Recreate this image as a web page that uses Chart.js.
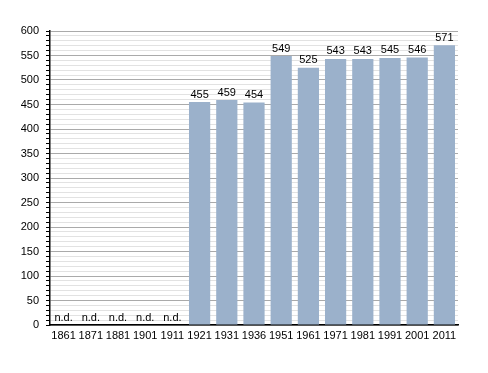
<!DOCTYPE html>
<html>
<head>
<meta charset="utf-8">
<script src="https://cdn.jsdelivr.net/npm/chart.js@4/dist/chart.umd.min.js"></script>
<style>
  html, body { margin: 0; padding: 0; background: #fff; }
  #wrap { width: 488px; height: 373px; }
</style>
</head>
<body>
<div id="wrap"><canvas id="popChart" width="488" height="373"></canvas></div>
<script>
const years = ['1861', '1871', '1881', '1901', '1911', '1921', '1931', '1936', '1951', '1961', '1971', '1981', '1991', '2001', '2011'];
// null = no data (n.d.)
const population = [null, null, null, null, null, 455, 459, 454, 549, 525, 543, 543, 545, 546, 571];

const BAR_COLOR = '#9bb1cb';
const FONT = 'Liberation Sans, Arial, sans-serif';

// draws value labels above bars and "n.d." where data is missing
const valueLabels = {
  id: 'valueLabels',
  afterDatasetsDraw(chart) {
    const { ctx } = chart;
    const meta = chart.getDatasetMeta(0);
    const yScale = chart.scales.y;
    ctx.save();
    ctx.font = '11px ' + FONT;
    ctx.fillStyle = '#000';
    ctx.textAlign = 'center';
    ctx.textBaseline = 'bottom';
    meta.data.forEach((bar, i) => {
      const v = population[i];
      if (v === null) {
        ctx.fillText('n.d.', bar.x, yScale.getPixelForValue(0) - 2);
      } else {
        ctx.fillText(String(v), bar.x, bar.y - 2);
      }
    });
    ctx.restore();
  }
};

Chart.defaults.font.family = FONT;
Chart.defaults.font.size = 11;
Chart.defaults.color = '#000';

new Chart(document.getElementById('popChart'), {
  type: 'bar',
  data: {
    labels: years,
    datasets: [{
      data: population,
      backgroundColor: BAR_COLOR,
      borderWidth: 0,
      barPercentage: 0.78,
      categoryPercentage: 1.0
    }]
  },
  options: {
    responsive: false,
    animation: false,
    layout: { padding: { top: 31, right: 30, left: 0, bottom: 0 } },
    plugins: {
      legend: { display: false },
      tooltip: { enabled: false }
    },
    scales: {
      x: {
        grid: { display: false, drawTicks: false },
        border: { color: '#000', width: 1.5 },
        ticks: { padding: 4, maxRotation: 0, autoSkip: false, color: '#000' },
        afterFit(scale) { scale.height = 48; }
      },
      y: {
        min: 0,
        max: 600,
        border: { color: '#000', width: 1.5 },
        grid: {
          color: ctx => (ctx.tick && ctx.tick.value % 50 === 0) ? '#aaaaaa' : '#e2e2e2',
          tickColor: '#000',
          tickLength: 4,
          lineWidth: 1
        },
        ticks: {
          stepSize: 10,
          autoSkip: false,
          maxTicksLimit: 100,
          padding: 7,
          color: '#000',
          callback: v => (v % 50 === 0 ? v : '')
        },
        afterFit(scale) { scale.width = 50; }
      }
    }
  },
  plugins: [valueLabels]
});
</script>
</body>
</html>
